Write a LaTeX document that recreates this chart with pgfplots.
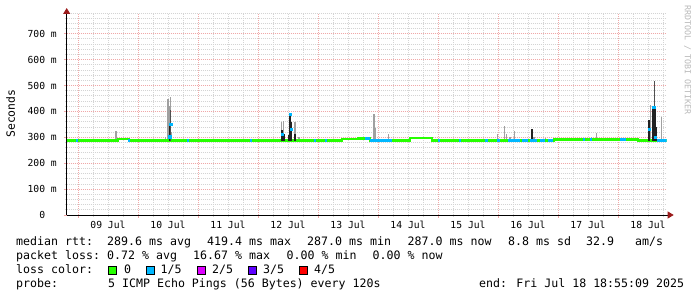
\documentclass[border=0pt]{standalone}
\usepackage{fontspec}
\setmainfont{DejaVu Sans Mono}
\usepackage{pgfplots}
\pgfplotsset{compat=1.18}
\usepackage{pgfplotstable}
\usetikzlibrary{arrows.meta}

\definecolor{lgreen}{HTML}{26FF00}
\definecolor{lblue}{HTML}{00B8FF}
\definecolor{lmag}{HTML}{DD00FF}
\definecolor{lpurp}{HTML}{5E00FF}
\definecolor{lred}{HTML}{FF0000}
\definecolor{smokeL}{HTML}{A0A0A0}
\definecolor{smokeM}{HTML}{505050}
\definecolor{smokeD}{HTML}{222222}
\definecolor{mgrid}{HTML}{F0A8A8}
\definecolor{ngrid}{HTML}{D4D4D4}
\definecolor{arrowred}{HTML}{9A1A1A}

% median rtt (ms), hours from 09 Jul 00:00, loss 0/5
\pgfplotstableread{
x y
-4.6 288
16 293
20.4 288
105.6 293
112 296
116.8 288
132.8 297
141.6 288
190.4 292
224 288
235.6 288
}\medgreen

% median rtt segments with loss 1/5
\pgfplotstableread{
x y
-1.0 288
0.0 288
0.0 nan
19.8 288
20.8 288
20.8 nan
43.4 288
44.4 288
44.4 nan
68.6 288
69.6 288
69.6 nan
94.2 288
95.2 288
95.2 nan
98.6 288
99.6 288
99.6 nan
114.8 296
116.8 296
116.8 nan
116.8 288
125.6 288
125.6 nan
144.0 288
144.8 288
144.8 nan
152.4 288
153.2 288
153.2 nan
162.8 288
164.0 288
164.0 nan
167.6 288
168.8 288
168.8 nan
172.0 288
176.8 288
176.8 nan
177.6 288
180.0 288
180.0 nan
180.8 288
183.6 288
183.6 nan
184.8 288
186.8 288
186.8 nan
188.0 288
190.0 288
190.0 nan
201.8 292
202.6 292
202.6 nan
204.8 292
205.6 292
205.6 nan
216.8 292
219.2 292
219.2 nan
231.6 288
235.6 288
}\medblue

% median points with loss 1/5 inside spikes
\pgfplotstableread{
x y
36.7 302
37.1 351
81.7 313
84.9 390
85.2 331
228.4 330
230.3 416
231.0 300
}\bluedots

% light smoke (lo, hi in ms)
\pgfplotstableread{
x lo hi
15.2 288 325
35.0 288 302
36.0 288 448
36.6 288 420
37.0 288 456
37.4 288 320
81.5 288 358
82.3 288 364
86.8 288 360
88.4 288 302
118.1 288 337
118.4 288 390
119.0 288 337
124.1 288 312
167.7 288 312
170.5 288 344
171.5 288 312
172.8 288 302
174.5 288 324
182.4 288 300
187.1 288 297
198.5 288 298
205.5 288 300
207.3 288 318
220.4 288 298
229.1 288 425
233.3 288 380
}\smokelight

% medium smoke
\pgfplotstableread{
x lo hi
37.0 286 405
230.4 286 518
}\smokemed

% dark smoke
\pgfplotstableread{
x lo hi
36.6 286 355
81.7 286 328
82.4 286 313
84.4 286 309
84.9 286 390
85.3 286 360
86.8 286 313
181.7 286 332
228.5 286 365
230.1 286 416
230.7 286 416
231.2 286 341
}\smokedark

\begin{document}
\begin{tikzpicture}[x=1pt,y=1pt]
\path[use as bounding box] (0,0) rectangle (697,297);
\begin{axis}[
  at={(66.7pt,82pt)}, anchor=south west,
  scale only axis, width=600pt, height=202pt,
  xmin=-4.52, xmax=235.48, ymin=0, ymax=780,
  axis lines*=left,
  axis line style={black, line width=0.9pt},
  x axis line style={-{Triangle[length=6pt,width=7pt,color=arrowred]}, shorten >=-7pt},
  y axis line style={-{Triangle[length=6pt,width=7pt,color=arrowred]}, shorten >=-5pt},
  xtick={0,24,...,216}, xticklabels={},
  minor xtick={6,12,18,30,36,42,54,60,66,78,84,90,102,108,114,126,132,138,150,156,162,174,180,186,198,204,210,222,228,234},
  extra x ticks={12,36,60,84,108,132,156,180,204,228},
  extra x tick labels={09 Jul,10 Jul,11 Jul,12 Jul,13 Jul,14 Jul,15 Jul,16 Jul,17 Jul,18 Jul},
  extra x tick style={grid=none, major tick length=0pt},
  ytick={0,100,...,700},
  yticklabels={0\hphantom{0m},100 m,200 m,300 m,400 m,500 m,600 m,700 m},
  minor ytick={20,40,60,80,120,140,160,180,220,240,260,280,320,340,360,380,420,440,460,480,520,540,560,580,620,640,660,680,720,740,760,780},
  xmajorgrids, xminorgrids, ymajorgrids, yminorgrids,
  major grid style={mgrid, line width=0.8pt, dash pattern=on 1pt off 1pt},
  minor grid style={ngrid, line width=0.8pt, dash pattern=on 1pt off 1pt},
  tick align=outside, major tick length=3pt, minor tick length=2pt,
  every major tick/.style={draw=mgrid, line width=0.8pt},
  every minor tick/.style={draw=ngrid, line width=0.8pt},
  x tick label style={font=\fontsize{9.7}{11}\selectfont, inner sep=0pt, anchor=base, yshift=-13.3pt},
  y tick label style={font=\fontsize{9.7}{11}\selectfont, inner sep=0pt, anchor=east, xshift=-6.7pt},
  clip=true,
]
\addplot[smokeL, line width=1.2pt, quiver={u=0, v=\thisrow{hi}-\thisrow{lo}}] table[x=x, y=lo] {\smokelight};
\addplot[lgreen, line width=2.6pt, const plot, mark=none] table[x=x, y=y] {\medgreen};
\addplot[smokeM, line width=1pt, quiver={u=0, v=\thisrow{hi}-\thisrow{lo}}] table[x=x, y=lo] {\smokemed};
\addplot[smokeD, line width=1.6pt, quiver={u=0, v=\thisrow{hi}-\thisrow{lo}}] table[x=x, y=lo] {\smokedark};
\addplot[lblue, line width=2.6pt, mark=none, unbounded coords=jump] table[x=x, y=y] {\medblue};
\addplot[only marks, mark=square*, mark size=1.1pt, lblue, mark options={draw=none, fill=lblue}] table[x=x, y=y] {\bluedots};
\end{axis}

\node[rotate=90, anchor=base, inner sep=0pt, font=\fontsize{11.4}{13}\selectfont] at (15,183.3) {Seconds};
\node[rotate=-90, anchor=center, inner sep=0pt, text=black!28, font=\fontsize{8.3}{10}\selectfont] at (687.5,237) {RRDTOOL / TOBI OETIKER};

\begin{scope}[every node/.style={anchor=base west, inner sep=0pt, font=\fontsize{11.6}{14}\selectfont}]
\node at (16,51.5) {median rtt:};
\node at (107,51.5) {289.6 ms avg};
\node at (207,51.5) {419.4 ms max};
\node at (307,51.5) {287.0 ms min};
\node at (407.5,51.5) {287.0 ms now};
\node at (508,51.5) {8.8 ms sd};
\node at (586,51.5) {32.9};
\node at (635,51.5) {am/s};
\node at (16,37.5) {packet loss:};
\node at (107,37.5) {0.72 \% avg};
\node at (193,37.5) {16.67 \% max};
\node at (286.5,37.5) {0.00 \% min};
\node at (372.5,37.5) {0.00 \% now};
\node at (16,23.5) {loss color:};
\node at (124,23.5) {0};
\node at (160.5,23.5) {1/5};
\node at (212,23.5) {2/5};
\node at (263,23.5) {3/5};
\node at (314,23.5) {4/5};
\node at (16,9.7) {probe:};
\node at (108,9.7) {5 ICMP Echo Pings (56 Bytes) every 120s};
\node at (479,9.7) {end: Fri Jul 18 18:55:09 2025};
\end{scope}
\draw[fill=lgreen, line width=0.8pt] (108.3,23) rectangle (116.8,31);
\draw[fill=lblue, line width=0.8pt] (146,23) rectangle (154.3,31);
\draw[fill=lmag, line width=0.8pt] (197.5,23) rectangle (205.2,31);
\draw[fill=lpurp, line width=0.8pt] (248.3,23) rectangle (256.3,31);
\draw[fill=lred, line width=0.8pt] (299.6,23) rectangle (307.6,31);
\end{tikzpicture}
\end{document}
